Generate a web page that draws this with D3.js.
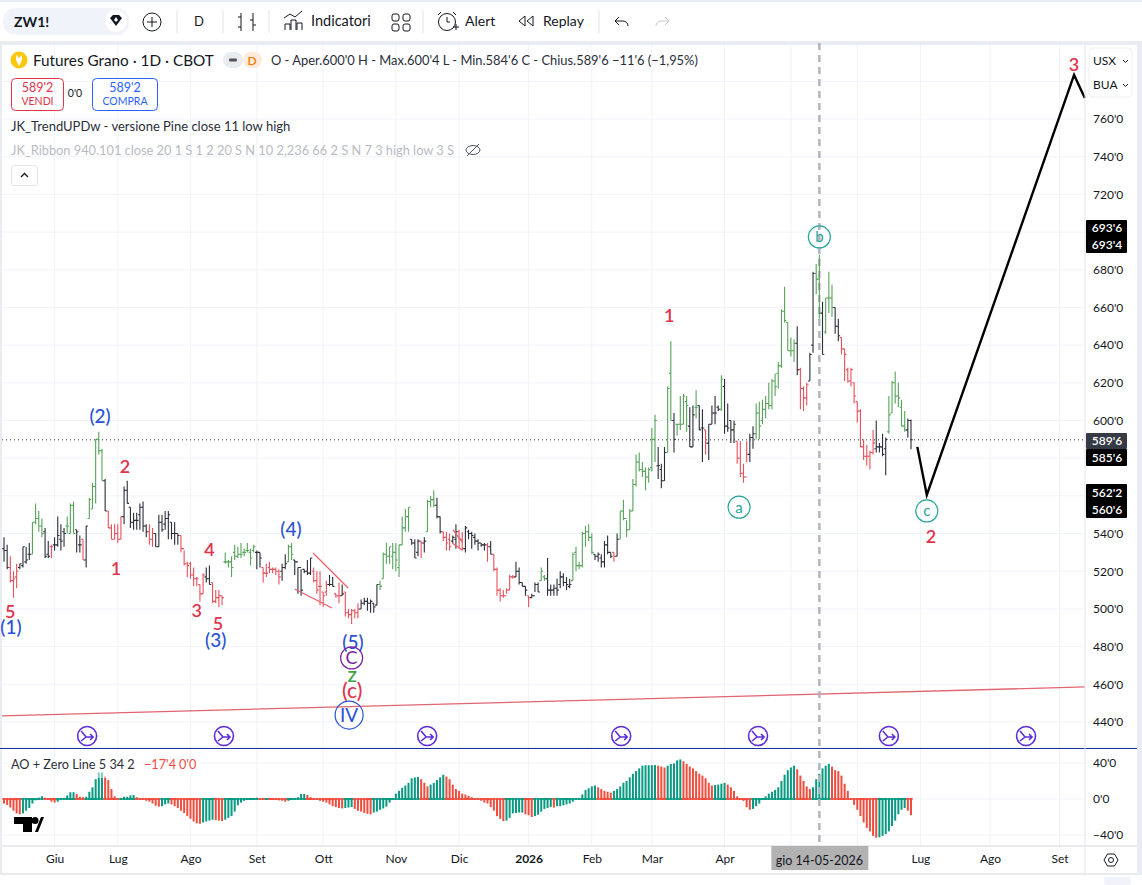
<!DOCTYPE html>
<html>
<head>
<meta charset="utf-8">
<title>Futures Grano</title>
<script src="https://d3js.org/d3.v7.min.js"></script>
<style>
    html, body { margin: 0; padding: 0; background: #fff; overflow: hidden; }
    svg text { font-family: "Lato", "Noto Sans", sans-serif; fill: #131722; }
</style>
</head>
<body>
<div id="chart"></div>
<script>
// daily bars (one row = 10 bars)
const barHigh = [
538,534,528,520,524,524,533,533,535,546,
556,552,548,543,536,534,538,549,545,543,
549,556,557,542,539,537,544,559,567,590,
594,585,569,552,545,545,545,549,565,568,
554,551,551,556,557,545,545,543,540,550,
550,552,552,546,546,540,539,531,525,525,
522,517,513,519,522,523,514,510,510,507,
530,526,528,534,533,535,532,535,532,534,
531,530,522,524,525,522,522,521,
524,529,534,535,526,522,521,521,526,527,
522,520,520,509,515,518,517,508,514,513,
509,500,500,500,503,505,506,506,505,503,
513,515,530,535,533,535,535,534,549,553,
554,537,537,537,536,538,558,560,563,559,
549,541,541,540,539,545,542,541,544,542,
541,540,537,535,535,535,536,529,522,511,
510,511,518,518,525,522,514,512,507,508,
514,514,522,518,527,513,513,516,
520,519,517,516,530,533,525,541,544,545,
540,529,530,529,536,539,530,530,540,552,
558,547,553,569,582,583,578,575,575,596,
603,586,577,586,618,642,604,598,613,614,
613,607,608,616,608,606,595,598,608,613,
608,624,622,609,600,600,589,589,577,589,
593,597,609,610,
611,613,620,622,625,631,659,671,652,644,
643,650,628,618,620,636,679,683,688,663,
665,679,672,660,654,644,638,628,628,620,
610,606,590,587,584,595,600,588,593,591,
613,621,626,620,611,605,601,600.5];
const barLow = [
525,521,514,506,511,521,522,524,526,529,
545,541,538,527,527,527,531,533,531,533,
540,540,540,530,530,526,522,548,553,556,
582,568,552,543,537,537,535,537,545,556,
543,542,542,542,541,538,534,533,533,533,
541,542,537,537,534,534,530,523,517,516,
512,512,504,508,514,513,503,503,501,502,
524,522,517,526,527,527,528,530,523,530,
521,522,514,517,519,519,518,513,
515,521,525,526,518,508,507,519,518,518,
514,508,502,501,507,512,512,506,503,507,
496,495,492,495,495,500,502,499,498,498,
502,510,516,524,524,521,520,517,534,541,
541,534,527,528,527,530,541,554,554,548,
540,536,531,531,535,532,532,531,530,537,
532,534,531,533,531,525,529,520,507,504,
506,508,510,516,517,513,512,507,501,506,
509,509,515,515,507,507,507,507,
511,512,510,511,515,520,521,522,533,536,
529,526,525,522,522,529,527,525,528,537,
547,538,542,552,565,573,570,563,567,573,
578,569,564,568,583,600,583,592,595,598,
594,586,586,601,595,578,582,579,598,598,
605,605,593,594,588,588,577,570,567,578,
578,585,590,590,
598,601,606,606,613,617,628,652,637,634,
631,624,606,605,608,621,636,667,654,635,
646,657,655,646,642,635,621,620,618,609,
599,586,579,576,574,582,583,583,581,571,
593,604,609,607,597,594,591,584.75];
const barOpen = [
532,531,522,515,517,522,523,525,529,529,
546,548,544,541,529,533,534,534,537,541,
544,540,555,542,534,537,526,548,553,565,
590,584,568,552,543,537,540,537,549,563,
554,546,547,550,554,544,541,537,540,533,
546,545,548,546,540,540,539,532,524,524,
518,516,513,508,517,516,514,504,506,507,
525,525,525,530,528,529,530,531,530,531,
530,530,522,519,522,521,521,520,
520,522,525,533,526,525,522,521,520,519,
520,515,512,509,509,513,513,508,507,507,
509,498,497,499,498,500,503,504,503,503,
502,513,516,529,528,528,530,522,534,543,
549,537,535,530,536,535,541,557,558,555,
549,541,538,537,536,537,541,537,532,541,
540,538,536,535,534,534,533,529,521,510,
507,507,510,517,517,520,514,512,507,506,
507,513,515,517,516,510,510,511,
513,517,514,512,515,530,523,523,540,541,
538,529,528,527,525,534,530,530,528,537,
552,548,542,552,566,578,574,573,570,575,
590,576,574,568,583,625,600,598,598,598,
610,597,586,607,608,596,595,588,598,604,
607,606,618,597,600,595,589,580,572,570,
582,591,593,604,
600,606,609,608,621,625,629,658,652,637,
637,641,627,617,612,621,640,678,675,657,
647,665,665,660,650,644,638,627,621,620,
610,605,586,581,581,583,585,586,586,585,
594,604,620,613,607,597,595,600];
const barClose = [
531,522,515,516,520,524,533,526,529,546,
548,544,540,528,528,533,534,539,536,540,
544,555,540,541,534,526,544,558,565,590,
584,568,552,543,537,540,537,549,563,556,
546,547,547,554,544,541,537,540,533,546,
542,548,550,540,540,539,532,524,523,518,
516,516,508,518,516,513,504,506,507,506,
525,525,522,528,529,529,530,531,527,533,
530,527,519,519,521,521,520,517,
522,524,533,529,525,522,510,520,519,527,
515,510,512,507,513,513,512,507,507,508,
498,497,499,498,500,503,504,503,504,501,
513,512,529,528,533,530,526,534,543,549,
554,535,527,536,535,536,557,558,555,549,
541,538,535,533,538,541,537,532,543,540,
539,536,535,534,534,533,529,521,510,507,
507,510,517,517,520,514,512,510,506,507,
513,509,520,516,510,510,511,510,
517,514,513,513,529,523,523,540,541,538,
530,528,529,525,534,530,528,528,537,552,
548,542,552,566,578,574,573,570,574,590,
600,576,568,583,617,600,590,598,598,613,
608,586,603,607,595,596,588,598,604,604,
606,622,597,596,595,598,580,572,570,582,
591,593,604,597,
606,609,608,621,618,629,658,653,637,637,
641,627,617,612,619,635,678,675,657,635,
665,665,660,650,645,638,635,621,627,613,
605,586,581,581,583,588,586,586,582,590,
603,620,613,612,597,595,600,589.75];
// trend colour of each bar: k = neutral, g = up, r = down
const barTrend = (
"kkrrrkkkkg" + "gggkkrkkkk" + "gggkkrkggg" + "ggkrrrrrkk" + "kkkkkkrrkk" +
"kkkkkkrrrr" + "rrrrkkrrrr" + "gggggggggg" + "kkrrrrrr" +
"kkggkkkkkk" + "rrrrrkkrrk" + "rrrrrkkkkk" + "kggggggggg" + "gkkkrkgggk" +
"krrrkkrrkk" + "kkkkkrkrrr" + "rrrrkkkkrk" + "kkggkkkk" +
"kkkkgggggg" + "gkkkkkkrkg" + "gggggggggg" +
"gkkkggkggg" + "gkkgkkrkkk" + "kgkkkkrrrr" + "kkgg" +
"gggggggggg" + "gkrrrkkggk" + "gggkkrrrrr" + "rrrrrrkkkk" + "ggggggkk"
).split("");

// Awesome Oscillator histogram
const aoValues = [
-5,-6.5,-9.5,-13,-16,-17,-16,-13,-10,-5,
-1.5,1.5,3,1.5,0,-3,-4,-3,-1,1,
4,7.5,7.5,5.5,2.5,2,2.5,8,13,22,
29.5,29.5,25,21,11,3,0.5,1,2.5,2.5,
4,4.5,2,0.5,-0.5,-2,-3,-5,-7.5,-8.5,
-8,-6,-5,-6,-8,-10,-13,-15.5,-19,-22,
-25,-27,-27.5,-26,-25,-24,-23,-23.5,-24,-24.5,
-23,-21,-19,-14,-7,-4,-2,-1,1,1,
1.5,1,0.5,0.5,0,-0.5,-1,-1.5,-2,-3,-2,
-1,0.5,2,5.5,5.5,4.5,2,0.5,-1,-2,
-3,-4,-6,-8,-9,-10,-10.5,-10,-9.5,-9,
-11,-13,-14,-15.5,-16.5,-17,-15,-14,-12,-10.5,
-8.5,-4,-1,6,9,12.5,15,18,23,24,
24.5,22,18,14,16,18,21,24,27,25,
22,16,11,9,
6,5,3.5,2,0.5,-1,-2,-4,-5,-9,
-13,-19,-22,-24.5,-24,-21,-16,-15.5,-15,-15,-17,
-18,-20,-19,-17.5,-14,-11,-10,-9,-9.5,-8,
-8,-7,-6,-5,-3,-0.5,0.5,5,10,12,
14,15,13,11,9,8,7,9,11,14,
18,20,24,28,31,34,37,37.5,37.5,37.6,37.7,
37,36,35,37,39,39.5,43,44,42,39,
36,34,31,28,26,23,18,15,15.5,16,
17,18,16,13,9,3,0,-2,-9,-12,
-11,-8,-5,-1,3,6,8,10,13,20,
27,32,35,37,33,26,20,14,11,13,
22,28,34,37,39,36,32,31,26,17,
9,0.5,-6.5,-12,-19,-26,-32,-36,-41,-43,
-42.5,-41,-39,-36,-30,-24,-17,-12,-10,-13,
-18];

// axes
const priceTicks = [440,460,480,500,520,540,600,620,640,660,680,720,740,760];
const priceGrid = d3.range(440, 781, 20);
const aoTicks = [40,0,-40];
const monthBars = [16,36,59,80,101,124,144,166,186,205,228,249,270,290,312,334];
const monthLabels = ["Giu","Lug","Ago","Set","Ott","Nov","Dic","2026","Feb","Mar","Apr","","","Lug","Ago","Set"];
const lastClose = 589.75;
const crosshairBar = 258;

// drawings, as [bar, price]
const supportLine = [[-0.6,443.2],[342,458.6]];
const forecastPath = [[289,586],[292,560.5],[338.6,783.4],[342,771.2]];
const wedgeLines = [
    [[97.8,529.7],[108.9,511.1]],
    [[92,510.6],[103.8,500.5]],
    [[142.1,541.9],[145,535.5]],
    [[141.8,535],[145,531.3]]
];
const eventBars = [26.3,69.6,133.9,195.3,238.6,280,323.4];

// wave labels: [text, bar, price]
const redLabels = [["5",2,498.4],["2",38.3,575.4],["1",35.4,521.2],["3",61,498.9],["4",65,531.3],["5",67.7,492],
    ["1",210.5,655.5],["2",293.3,538.2],["3",338.6,789]];
const bigRedLabels = [["(c)",110.2,456.5]];
const blueLabels = [["(1)",2.2,490.4],["(2)",30.4,602.4],["(3)",67,483.5],["(4)",90.8,542.4],["(5)",110.4,482.5]];
const greenLabels = [["z",110.2,465]];
const tealCircles = [["a",232.6,554],["b",258,697.4],["c",292,552]];
const purpleCircles = [["C",110,474]];
const blueCircles = [["IV",109.2,443.7]];

const width = 1142, height = 885;
const paneLeft = 2, paneRight = 1085, priceTop = 45, priceBottom = 747, aoBottom = 846, axisBottom = 873;
const colors = { g: "#57a35a", k: "#2a2e39", r: "#e8505b" };
const teal = "#089981", aoRed = "#f04d3f", waveRed = "#e2334b", waveBlue = "#2a52d6", waveTeal = "#26a69a";
const gridColor = "#f0f3fa", lineColor = "#e0e3eb";

const x = d3.scaleLinear().domain([0, barHigh.length - 1]).range([4, 911]);
const y = d3.scaleLinear().domain([440, 760]).range([722, 119]);
const yAo = d3.scaleLinear().domain([40, -40]).range([763, 835]);

const svg = d3.select("#chart").append("svg").attr("width", width).attr("height", height);

function label(sel, px, py, str, size, color, anchor, weight) {
    return sel.append("text").attr("x", px).attr("y", py).text(str)
        .style("font-size", size + "px").style("fill", color || "#131722")
        .attr("text-anchor", anchor || "start").style("font-weight", weight || 400);
}

// page chrome behind the panes
svg.append("rect").attr("width", width).attr("height", height).attr("fill", "#fff");
svg.append("rect").attr("y", 0).attr("width", width).attr("height", 2).attr("fill", "#e9ecf2");
svg.append("rect").attr("y", 41).attr("width", width).attr("height", 4).attr("fill", "#e9ecf2");
svg.append("rect").attr("width", 2).attr("y", 41).attr("height", 834).attr("fill", "#e9ecf2");
svg.append("rect").attr("x", 1137).attr("y", 41).attr("width", 5).attr("height", 834).attr("fill", "#e9ecf2");

// grid
const grid = svg.append("g").attr("stroke", gridColor);
grid.selectAll("line.v").data(monthBars).enter().append("line")
    .attr("x1", d => x(d)).attr("x2", d => x(d)).attr("y1", priceTop).attr("y2", aoBottom);
grid.selectAll("line.h").data(priceGrid).enter().append("line")
    .attr("x1", paneLeft).attr("x2", paneRight).attr("y1", d => y(d)).attr("y2", d => y(d));
grid.selectAll("line.a").data(aoTicks).enter().append("line")
    .attr("x1", paneLeft).attr("x2", paneRight).attr("y1", d => yAo(d)).attr("y2", d => yAo(d));

// AO histogram
const ao = svg.append("g");
ao.selectAll("rect.bar").data(aoValues).enter().append("rect")
    .attr("x", (d, i) => x(i) - 1).attr("width", 2)
    .attr("y", d => Math.min(yAo(d), yAo(0))).attr("height", d => Math.abs(yAo(d) - yAo(0)))
    .attr("fill", (d, i) => (i > 0 && d >= aoValues[i - 1]) ? teal : aoRed);
ao.selectAll("rect.zero").data(aoValues).enter().append("rect")
    .attr("x", (d, i) => x(i) - 1.6).attr("width", 3.2)
    .attr("y", yAo(0) - 1).attr("height", 2)
    .attr("fill", (d, i) => (i > 0 && d >= aoValues[i - 1]) ? teal : aoRed);

// support line and last price
const pointLine = d3.line().x(d => x(d[0])).y(d => y(d[1]));
svg.append("path").attr("d", pointLine(supportLine)).attr("fill", "none").attr("stroke", "#e06570").attr("stroke-width", 1.3);
svg.append("line").attr("x1", paneLeft).attr("x2", paneRight).attr("y1", y(lastClose)).attr("y2", y(lastClose))
    .attr("stroke", "#2a2e39").attr("stroke-dasharray", "1 3");

// crosshair
svg.append("line").attr("x1", x(crosshairBar)).attr("x2", x(crosshairBar)).attr("y1", 43).attr("y2", aoBottom)
    .attr("stroke", "#b2b5be").attr("stroke-width", 2.5).attr("stroke-dasharray", "7 5");

// OHLC bars
const bars = svg.append("g").attr("fill", "none").attr("stroke-width", 1.1);
barHigh.forEach((h, i) => {
    const px = x(i);
    const b = d3.path();
    b.moveTo(px, y(h)); b.lineTo(px, y(barLow[i]));
    b.moveTo(px - 1.8, y(barOpen[i])); b.lineTo(px, y(barOpen[i]));
    b.moveTo(px, y(barClose[i])); b.lineTo(px + 1.8, y(barClose[i]));
    bars.append("path").attr("d", b.toString()).attr("stroke", colors[barTrend[i]]);
});

// hand drawn lines
wedgeLines.forEach(l => {
    svg.append("path").attr("d", pointLine(l)).attr("fill", "none").attr("stroke", "#e8606a").attr("stroke-width", 1.2);
});
svg.append("path").attr("d", pointLine(forecastPath)).attr("fill", "none").attr("stroke", "#000").attr("stroke-width", 2.4);

// wave labels
function waveText(list, color, size, weight) {
    list.forEach(d => label(svg, x(d[1]), y(d[2]) + size * 0.36, d[0], size, color, "middle", weight));
}
waveText(redLabels, waveRed, 18, 600);
waveText(bigRedLabels, waveRed, 21, 500);
waveText(blueLabels, waveBlue, 19, 500);
waveText(greenLabels, "#43a047", 21, 500);
function waveCircle(list, color, r, size) {
    list.forEach(d => {
        svg.append("circle").attr("cx", x(d[1])).attr("cy", y(d[2])).attr("r", r)
            .attr("fill", "none").attr("stroke", color).attr("stroke-width", 1.2);
        label(svg, x(d[1]), y(d[2]) + size * 0.36, d[0], size, color, "middle");
    });
}
waveCircle(tealCircles, waveTeal, 11, 15);
waveCircle(purpleCircles, "#7b1fa2", 11, 18);
waveCircle(blueCircles, waveBlue, 14, 19);

// event markers along the bottom of the price pane
eventBars.forEach(b => {
    const g = svg.append("g").attr("transform", `translate(${x(b)},736)`)
        .attr("fill", "none").attr("stroke", "#5b2ddb").attr("stroke-width", 1.6);
    g.append("circle").attr("r", 9.5);
    g.append("path").attr("d", "M-6,-5 L-1,1 L6,1 M3,-2 L6,1 L3,4 M-6,5 L-1,1");
});

// pane separators
svg.append("line").attr("x1", 0).attr("x2", 1137).attr("y1", 748.5).attr("y2", 748.5).attr("stroke", "#1f2f9c").attr("stroke-width", 1);
svg.append("line").attr("x1", paneRight).attr("x2", paneRight).attr("y1", priceTop).attr("y2", axisBottom).attr("stroke", lineColor);
svg.append("line").attr("x1", paneLeft).attr("x2", 1137).attr("y1", aoBottom).attr("y2", aoBottom).attr("stroke", lineColor).attr("stroke-width", 1.5);
svg.append("line").attr("x1", paneLeft).attr("x2", 1137).attr("y1", axisBottom + 1).attr("y2", axisBottom + 1).attr("stroke", lineColor).attr("stroke-width", 1.5);
svg.append("rect").attr("x", 1104).attr("y", 877).attr("width", 27).attr("height", 8).attr("rx", 3).attr("fill", "#f0f3fa");

// price axis
function styleAxis(g) {
    g.select(".domain").remove();
    g.selectAll("text").style("font-size", "12px").style("fill", "#131722");
}
svg.append("g").attr("transform", `translate(${paneRight},0)`)
    .call(d3.axisRight(y).tickValues(priceTicks).tickSize(0).tickPadding(8).tickFormat(d => d + "'0"))
    .call(styleAxis);
svg.append("g").attr("transform", `translate(${paneRight},0)`)
    .call(d3.axisRight(yAo).tickValues(aoTicks).tickSize(0).tickPadding(8)
        .tickFormat(d => (d < 0 ? "\u2212" + (-d) : d) + "'0"))
    .call(styleAxis);

// time axis
svg.append("g").attr("transform", `translate(0,${aoBottom + 5})`)
    .call(d3.axisBottom(x).tickValues(monthBars).tickSize(0).tickPadding(3).tickFormat((d, i) => monthLabels[i]))
    .call(styleAxis)
    .selectAll("text").style("font-weight", (d, i) => monthLabels[i] === "2026" ? 700 : 400);
svg.append("rect").attr("x", x(crosshairBar) - 48).attr("y", aoBottom).attr("width", 97).attr("height", 24).attr("fill", "#b2b2b2");
label(svg, x(crosshairBar), 865, "gio 14-05-2026", 12.5, "#131722", "middle");
svg.append("path").attr("d", "M1104,860 L1107.5,854 L1114.5,854 L1118,860 L1114.5,866 L1107.5,866 Z").attr("fill", "none").attr("stroke", "#131722");
svg.append("circle").attr("cx", 1111).attr("cy", 860).attr("r", 2.5).attr("fill", "none").attr("stroke", "#131722");

// price flags on the axis
function flag(top, h, fill, texts) {
    svg.append("rect").attr("x", paneRight + 1).attr("y", top).attr("width", 41).attr("height", h).attr("fill", fill).attr("rx", 1);
    texts.forEach((t, i) => label(svg, 1107, top + h / texts.length * (i + 0.5) + 4.2, t, 12, "#fff", "middle", 600));
}
flag(220, 33, "#000", ["693'6", "693'4"]);
flag(433, 16, "#363a45", ["589'6"]);
flag(449, 17, "#000", ["585'6"]);
flag(484, 34, "#000", ["562'2", "560'6"]);

// currency and unit buttons
svg.append("rect").attr("x", 1089).attr("y", 48).attr("width", 43).attr("height", 49).attr("rx", 4).attr("fill", "#fff").attr("stroke", "#eef0f4");
label(svg, 1093, 65, "USX", 12);
label(svg, 1093, 89, "BUA", 12);
[61, 85].forEach(cy => svg.append("path").attr("d", `M1123,${cy - 1} l2.5,2.5 l2.5,-2.5`).attr("fill", "none").attr("stroke", "#131722"));

// toolbar
const bar = svg.append("g");
bar.append("rect").attr("x", 3).attr("y", 8).attr("width", 126).attr("height", 27).attr("rx", 13).attr("fill", "#f0f3fa");
bar.append("circle").attr("cx", 116).attr("cy", 21).attr("r", 11).attr("fill", "#fff");
bar.append("path").attr("d", "M110,18 L113,15 L119,15 L122,18 L116,26 Z M116,17 L118,20 L116,22 L114,20 Z")
    .attr("fill", "#131722").attr("fill-rule", "evenodd");
label(bar, 14, 27, "ZW1!", 14, "#131722", "start", 700);
bar.append("circle").attr("cx", 152).attr("cy", 22).attr("r", 9).attr("fill", "none").attr("stroke", "#131722");
bar.append("path").attr("d", "M147,22 h10 M152,17 v10").attr("stroke", "#131722");
label(bar, 199, 26, "D", 13, "#131722", "middle");
[177, 223, 269, 423, 599].forEach(px => bar.append("line").attr("x1", px).attr("x2", px).attr("y1", 10).attr("y2", 33).attr("stroke", lineColor));
const ic = bar.append("g").attr("fill", "none").attr("stroke", "#131722");
ic.append("path").attr("d", "M241,13 v18 M238,17 h3 M238,27 h3 M253,13 v18 M250,20 h3 M253,25 h3");
ic.append("path").attr("d", "M285,30 v-6 h5 v6 M291,30 v-10 h5 v10 M297,30 v-7 h5 v7 M284,18 l6,-4 l5,3 l7,-6");
label(bar, 311, 26, "Indicatori", 14.5);
[[392, 14], [403, 14], [392, 24], [403, 24]].forEach(p => ic.append("rect").attr("x", p[0]).attr("y", p[1]).attr("width", 7).attr("height", 7).attr("rx", 2));
ic.append("circle").attr("cx", 447).attr("cy", 22).attr("r", 8.5);
ic.append("path").attr("d", "M447,17 v5 h3 M438,15 l3,-3 M456,15 l-3,-3 M453,27 h6 M456,24 v6");
label(bar, 465, 26, "Alert", 14);
ic.append("path").attr("d", "M525,16 l-6,5 l6,5 Z M533,16 l-6,5 l6,5 Z");
label(bar, 543, 26, "Replay", 14);
ic.append("path").attr("d", "M619,17 l-4,4 l4,4 M615,21 h8 a5,5 0 0 1 5,5");
bar.append("path").attr("d", "M665,17 l4,4 l-4,4 M669,21 h-8 a5,5 0 0 0 -5,5").attr("fill", "none").attr("stroke", "#c5c8d0");

// legend
const lg = svg.append("g");
lg.append("circle").attr("cx", 19).attr("cy", 60).attr("r", 8.5).attr("fill", "#f9c80e");
lg.append("path").attr("d", "M16,55 L19,58 L22,55 L22,60 L19,66 L16,60 Z").attr("fill", "#fff");
label(lg, 33, 65.5, "Futures Grano \u00b7 1D \u00b7 CBOT", 15.3);
lg.append("rect").attr("x", 223).attr("y", 52).attr("width", 20).attr("height", 16).attr("fill", "#e9ebef").attr("rx", 8);
lg.append("rect").attr("x", 243).attr("y", 52).attr("width", 19).attr("height", 16).attr("fill", "#fdeadb").attr("rx", 8);
lg.append("rect").attr("x", 229).attr("y", 58.5).attr("width", 8).attr("height", 3).attr("rx", 1).attr("fill", "#50535e");
label(lg, 252, 65, "D", 12, "#f57c00", "middle", 600);
label(lg, 271, 64.5, "O - Aper.600'0  H - Max.600'4  L - Min.584'6  C - Chius.589'6  \u221211'6 (\u22121,95%)", 12.9, "#2a2e39");

lg.append("rect").attr("x", 11.5).attr("y", 78.5).attr("width", 52).attr("height", 32).attr("rx", 4).attr("fill", "#fff").attr("stroke", "#e2334b");
label(lg, 37.5, 92, "589'2", 12.5, "#e2334b", "middle");
label(lg, 37.5, 105, "VENDI", 10.5, "#e2334b", "middle");
label(lg, 75, 97, "0'0", 10.5, "#131722", "middle");
lg.append("rect").attr("x", 92.5).attr("y", 78.5).attr("width", 65).attr("height", 32).attr("rx", 4).attr("fill", "#fff").attr("stroke", "#2962ff");
label(lg, 125, 92, "589'2", 12.5, "#2962ff", "middle");
label(lg, 125, 105, "COMPRA", 10.5, "#2962ff", "middle");

label(lg, 11, 131, "JK_TrendUPDw - versione Pine close 11 low high", 13, "#2a2e39");
label(lg, 11, 155, "JK_Ribbon 940.101 close 20 1 S 1 2 20 S N 10 2,236 66 2 S N 7 3 high low 3 S", 12.8, "#b8bbc3");
lg.append("ellipse").attr("cx", 473).attr("cy", 150).attr("rx", 7).attr("ry", 4.5).attr("fill", "none").attr("stroke", "#50535e");
lg.append("path").attr("d", "M467,156 L479,144").attr("stroke", "#50535e");
lg.append("rect").attr("x", 11.5).attr("y", 165.5).attr("width", 26).attr("height", 20).attr("rx", 3).attr("fill", "#fff").attr("stroke", "#e0e3eb");
lg.append("path").attr("d", "M21,177 l3.5,-3.5 l3.5,3.5").attr("fill", "none").attr("stroke", "#131722").attr("stroke-width", 1.3);

// AO legend and logo
lg.append("rect").attr("x", 8).attr("y", 760).attr("width", 190).attr("height", 18).attr("fill", "#fff").attr("opacity", 0.5);
label(lg, 11, 769, "AO + Zero Line 5 34 2", 12.7, "#2a2e39");
label(lg, 144, 769, "\u221217'4", 12.7, "#f04d3f");
label(lg, 179, 769, "0'0", 12.7, "#f04d3f");
lg.append("path").attr("d", "M14,817 H32 V832 H23 V824 H14 Z").attr("fill", "#000");
lg.append("path").attr("d", "M35,832 L41,817 H44 L38,832 Z").attr("fill", "#000");
lg.append("circle").attr("cx", 35).attr("cy", 820.5).attr("r", 3.5).attr("fill", "#000");
</script>
</body>
</html>
